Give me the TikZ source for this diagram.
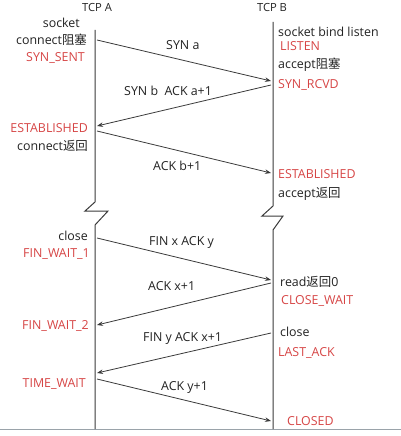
\documentclass[tikz,border=0pt]{standalone}
\usepackage{fontspec}
\setmainfont{Open Sans}
\newfontfamily\cjk{Noto Sans CJK SC}
\usetikzlibrary{arrows.meta}
\definecolor{stred}{HTML}{D64545}
\definecolor{txt}{HTML}{222222}
\definecolor{ln}{HTML}{3A3A3A}
\definecolor{base}{HTML}{9AA3AA}
\tikzset{
 lbl/.style={font=\fontsize{12.4}{14}\selectfont, text=txt, inner sep=0pt, yshift=-1.5pt},
 st/.style={lbl, text=stred},
 hdr/.style={font=\fontsize{11.2}{13}\selectfont, text=txt, inner sep=0pt, yshift=-1pt},
 msg/.style={draw=ln, line width=0.8pt, -{Stealth[length=6pt,width=4.5pt]}},
 life/.style={draw=ln, line width=1pt, line join=miter},
}
\begin{document}
\begin{tikzpicture}[x=1pt,y=-1pt]
\useasboundingbox (0,0) rectangle (401,436);
% baseline at bottom
\coordinate (L0) at (0,429);
\coordinate (L1) at (401,429);
\draw[base, line width=1pt] (L0) -- (L1);
% lifeline A
\coordinate (A0) at (95,30);
\coordinate (Az1) at (95,202);
\coordinate (Az2) at (85,211);
\coordinate (Az3) at (108,211);
\coordinate (Az4) at (95,225);
\coordinate (Aend) at (95,429);
\draw[life] (A0) -- (Az1) -- (Az2) -- (Az3) -- (Az4) -- (Aend);
% lifeline B
\coordinate (B0) at (273,22);
\coordinate (Bz1) at (273,206);
\coordinate (Bz2) at (262,216);
\coordinate (Bz3) at (283,216);
\coordinate (Bz4) at (273,230);
\coordinate (Bend) at (273,429);
\draw[life] (B0) -- (Bz1) -- (Bz2) -- (Bz3) -- (Bz4) -- (Bend);
% headers
\node[hdr] (hA) at (97,7) {TCP A};
\node[hdr] (hB) at (272,7) {TCP B};
% left side labels
\node[lbl, anchor=mid east] (a1) at (80,23) {socket};
\node[lbl, anchor=mid east] (a2) at (87,40) {connect{\cjk 阻塞}};
\node[st, anchor=mid east] (a3) at (85,57) {SYN\_SENT};
\node[st, anchor=mid east] (a4) at (88,128) {ESTABLISHED};
\node[lbl, anchor=mid east] (a5) at (88,146) {connect{\cjk 返回}};
\node[lbl, anchor=mid east] (a6) at (88,236) {close};
\node[st, anchor=mid east] (a7) at (90,253) {FIN\_WAIT\_1};
\node[st, anchor=mid east] (a8) at (89,325) {FIN\_WAIT\_2};
\node[st, anchor=mid east] (a9) at (86,383) {TIME\_WAIT};
% right side labels
\node[lbl, anchor=mid west] (b1) at (278,32) {socket bind listen};
\node[st, anchor=mid west] (b2) at (280,46) {LISTEN};
\node[lbl, anchor=mid west] (b3) at (278,64) {accept{\cjk 阻塞}};
\node[st, anchor=mid west] (b4) at (278,84) {SYN\_RCVD};
\node[st, anchor=mid west] (b5) at (278,174) {ESTABLISHED};
\node[lbl, anchor=mid west] (b6) at (278,193) {accept{\cjk 返回}};
\node[lbl, anchor=mid west] (b7) at (280,282) {read{\cjk 返回}0};
\node[st, anchor=mid west] (b8) at (281,300) {CLOSE\_WAIT};
\node[lbl, anchor=mid west] (b9) at (280,332) {close};
\node[st, anchor=mid west] (b10) at (278,352) {LAST\_ACK};
\node[st, anchor=mid west] (b11) at (287,421) {CLOSED};
% message endpoints
\coordinate (m1s) at (97,40);  \coordinate (m1e) at (271,81);
\coordinate (m2s) at (271,85); \coordinate (m2e) at (97,126);
\coordinate (m3s) at (97,131); \coordinate (m3e) at (271,173);
\coordinate (m4s) at (97,238); \coordinate (m4e) at (271,280);
\coordinate (m5s) at (271,283);\coordinate (m5e) at (97,325);
\coordinate (m6s) at (271,333);\coordinate (m6e) at (97,373);
\coordinate (m7s) at (97,379); \coordinate (m7e) at (271,421);
\draw[msg] (m1s) -- (m1e);
\draw[msg] (m2s) -- (m2e);
\draw[msg] (m3s) -- (m3e);
\draw[msg] (m4s) -- (m4e);
\draw[msg] (m5s) -- (m5e);
\draw[msg] (m6s) -- (m6e);
\draw[msg] (m7s) -- (m7e);
% message labels
\node[lbl, anchor=mid west] (t1) at (166,45) {SYN a};
\node[lbl, anchor=mid west] (t2) at (124,91) {SYN b\ \ ACK a+1};
\node[lbl, anchor=mid west] (t3) at (153,166) {ACK b+1};
\node[lbl, anchor=mid west] (t4) at (149,241) {FIN x ACK y};
\node[lbl, anchor=mid west] (t5) at (148,286) {ACK x+1};
\node[lbl, anchor=mid west] (t6) at (143,337) {FIN y ACK x+1};
\node[lbl, anchor=mid west] (t7) at (161,386) {ACK y+1};
\end{tikzpicture}
\end{document}
